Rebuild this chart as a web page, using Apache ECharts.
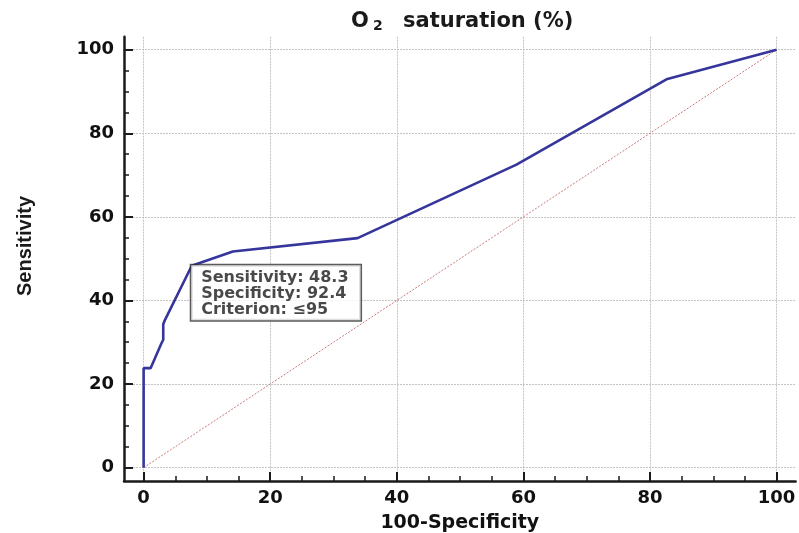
<!DOCTYPE html>
<html>
<head>
<meta charset="utf-8">
<script src="https://cdn.jsdelivr.net/npm/echarts@6/dist/echarts.min.js"></script>
<style>
html,body{margin:0;padding:0;background:#fff;}
#chart{width:799px;height:533px;}
</style>
</head>
<body>
<div id="chart"></div>
<script>
// ROC curve: 100-Specificity (x) vs Sensitivity (y)
var fpr = [0, 0, 1.1, 2.8, 3.1, 3.1, 3.3, 7.6, 14.1, 33.8, 58.9, 82.6, 100];
var tpr = [0, 23.8, 23.8, 29.7, 30.6, 34.3, 35.1, 48.3, 51.7, 54.9, 72.5, 92.9, 100];
// reference (chance) line
var diagX = [0, 100];
var diagY = [0, 100];
// highlighted criterion point
var critX = [7.6];
var critY = [48.3];
var critText = ['Sensitivity: 48.3', 'Specificity: 92.4', 'Criterion: \u226495'];
// ticks
var majorTicks = [0, 20, 40, 60, 80, 100];
var minorTicks = [5, 10, 15, 25, 30, 35, 45, 50, 55, 65, 70, 75, 85, 90, 95];

var FONT = '"DejaVu Sans", sans-serif';

var chart = echarts.init(document.getElementById('chart'), null, {renderer: 'canvas'});

function zip(a, b) { return a.map(function (v, i) { return [v, b[i]]; }); }

var xMin = -3.1, xMax = 103, yMin = -3.2, yMax = 103.1;

function mainAxis(min, max, isX) {
  return {
    type: 'value',
    min: min, max: max,
    position: isX ? 'bottom' : 'left',
    axisLine: {show: true, onZero: false, lineStyle: {color: '#1a1a1a', width: 2.5}},
    axisTick: {show: true, inside: true, length: 9, customValues: majorTicks,
               lineStyle: {color: '#1a1a1a', width: 2}},
    axisLabel: {show: true, customValues: majorTicks, margin: isX ? 8 : 10,
                fontFamily: FONT, fontWeight: 'bold', fontSize: 18, color: '#111'},
    splitLine: {show: true, lineStyle: {color: '#c4c4c4', width: 1, type: [2, 1]}},
    minorTick: {show: false}
  };
}
function minorAxis(min, max, isX) {
  return {
    type: 'value',
    min: min, max: max,
    position: isX ? 'bottom' : 'left',
    axisLine: {show: false, onZero: false},
    axisTick: {show: true, inside: true, length: 5, customValues: minorTicks,
               lineStyle: {color: '#1a1a1a', width: 1.5}},
    axisLabel: {show: false},
    splitLine: {show: false}
  };
}

var xMainAxis = mainAxis(xMin, xMax, true);
xMainAxis.name = '100-Specificity';
xMainAxis.nameLocation = 'middle';
xMainAxis.nameGap = 33;
xMainAxis.nameTextStyle = {fontFamily: FONT, fontWeight: 'bold', fontSize: 19, color: '#111'};

var option = {
  animation: false,
  backgroundColor: '#ffffff',
  grid: {left: 124, right: 3.4, top: 36.7, bottom: 52, containLabel: false, outerBoundsMode: 'none'},
  xAxis: [xMainAxis, minorAxis(xMin, xMax, true)],
  yAxis: [mainAxis(yMin, yMax, false), minorAxis(yMin, yMax, false)],
  graphic: [
    {type: 'text', x: 351, y: 22, z: 10,
     style: {text: 'O', font: 'bold 21px ' + FONT, fill: '#1a1a1a', align: 'left', verticalAlign: 'middle'}},
    {type: 'text', x: 373, y: 26, z: 10,
     style: {text: '2', font: 'bold 14px ' + FONT, fill: '#1a1a1a', align: 'left', verticalAlign: 'middle'}},
    {type: 'text', x: 403, y: 22, z: 10,
     style: {text: 'saturation (%)', font: 'bold 21px ' + FONT, fill: '#1a1a1a', align: 'left', verticalAlign: 'middle'}},
    {type: 'text', x: 25, y: 246, rotation: Math.PI / 2, z: 10,
     style: {text: 'Sensitivity', font: 'bold 20px "Liberation Sans Narrow", "Liberation Sans", sans-serif',
             fill: '#1a1a1a', align: 'center', verticalAlign: 'middle'}}
  ],
  series: [
    {
      type: 'line', name: 'diagonal',
      xAxisIndex: 0, yAxisIndex: 0,
      data: zip(diagX, diagY),
      symbol: 'none', silent: true,
      lineStyle: {color: '#cc7a7a', width: 1, type: [2, 1.5]},
      z: 2
    },
    {
      type: 'line', name: 'ROC',
      xAxisIndex: 0, yAxisIndex: 0,
      data: zip(fpr, tpr),
      symbol: 'none',
      lineStyle: {color: '#35359b', width: 2.6},
      z: 3
    },
    {
      type: 'scatter', name: 'criterion',
      xAxisIndex: 0, yAxisIndex: 0,
      data: zip(critX, critY),
      symbolSize: 1,
      itemStyle: {color: 'rgba(0,0,0,0)'},
      label: {
        show: true,
        position: [0, 0],
        formatter: critText.join('\n'),
        fontFamily: FONT, fontWeight: 'bold', fontSize: 16, color: '#1a1a1a',
        lineHeight: 16,
        backgroundColor: '#ffffff',
        borderColor: '#333', borderWidth: 1.5,
        padding: [5, 12, 2, 10]
      },
      z: 5
    }
  ]
};
chart.setOption(option);
</script>
</body>
</html>
